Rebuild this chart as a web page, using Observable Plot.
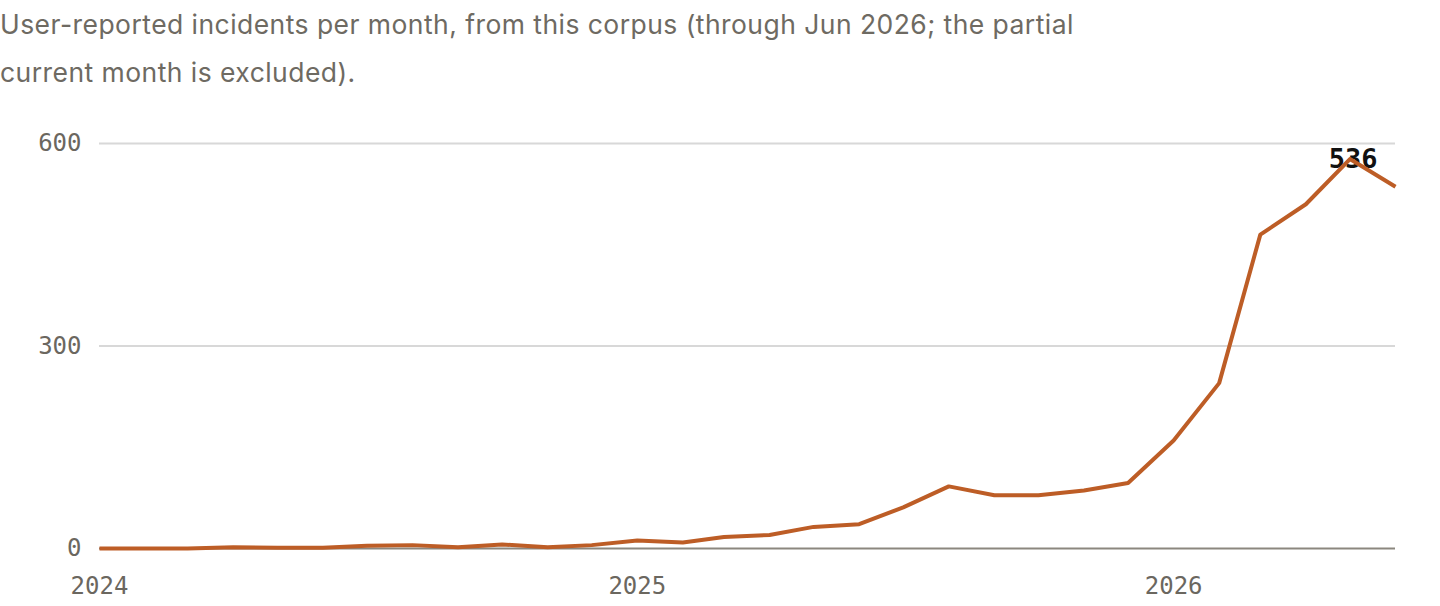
<!DOCTYPE html>
<html>
<head>
<meta charset="utf-8">
<script src="https://cdn.jsdelivr.net/npm/d3@7"></script>
<script src="https://cdn.jsdelivr.net/npm/@observablehq/plot@0.6"></script>
<style>
  html, body { margin: 0; padding: 0; background: #fff; }
  #subtitle {
    font-family: Inter, "Noto Sans", sans-serif;
    font-size: 26.5px;
    letter-spacing: 0.45px;
    line-height: 48px;
    color: #6e6a62;
    height: 96px;
    padding-top: 0px;
    box-sizing: border-box;
    white-space: nowrap;
  }
  #chart svg { display: block; }
</style>
</head>
<body>
<div id="subtitle">User-reported incidents per month, from this corpus (through Jun 2026; the partial<br>current month is excluded).</div>
<div id="chart"></div>
<script>
const months = ["2024-01","2024-02","2024-03","2024-04","2024-05","2024-06","2024-07","2024-08","2024-09","2024-10","2024-11","2024-12",
                "2025-01","2025-02","2025-03","2025-04","2025-05","2025-06","2025-07","2025-08","2025-09","2025-10","2025-11","2025-12",
                "2026-01","2026-02","2026-03","2026-04","2026-05","2026-06"];
const counts = [0,0,0,2,1,1,4,5,2,6,2,5,
                12,9,17,20,32,36,61,92,79,79,86,97,
                160,245,465,510,577,536];
const yTicks = [0, 300, 600];
const xTickYears = ["2024-01","2025-01","2026-01"];

const data = months.map((m, i) => ({date: new Date(m + "-01T00:00:00Z"), value: counts[i]}));
const last = data[data.length - 1];
const mono = "'DejaVu Sans Mono', monospace";

const chart = Plot.plot({
  width: 1440,
  height: 510,
  marginLeft: 99,
  marginRight: 45,
  marginTop: 47,
  marginBottom: 58,
  style: {fontFamily: mono, fontSize: "24px", color: "#6b675f", background: "#fff"},
  x: {type: "utc", domain: [data[0].date, last.date]},
  y: {domain: [0, 600]},
  marks: [
    Plot.ruleY(yTicks.filter(d => d !== 0), {stroke: "#d8d8d8", strokeWidth: 2}),
    Plot.ruleY([0], {stroke: "#8b877f", strokeWidth: 2}),
    Plot.axisY(yTicks, {tickSize: 0, tickPadding: 18, fontSize: 24, fill: "#6b675f", label: null}),
    Plot.axisX(xTickYears.map(s => new Date(s + "-01T00:00:00Z")), {tickSize: 0, tickPadding: 28, fontSize: 24, fill: "#6b675f", tickFormat: d3.utcFormat("%Y"), label: null}),
    Plot.text([last], {x: "date", y: "value", text: d => String(d.value), textAnchor: "end", dx: -18, dy: -27, fontSize: 27, fontWeight: "bold", fill: "#111", fontFamily: mono}),
    Plot.line(data, {x: "date", y: "value", stroke: "#bd5d26", strokeWidth: 4, strokeLinejoin: "round", strokeLinecap: "butt"})
  ]
});
document.getElementById("chart").appendChild(chart);
</script>
</body>
</html>
